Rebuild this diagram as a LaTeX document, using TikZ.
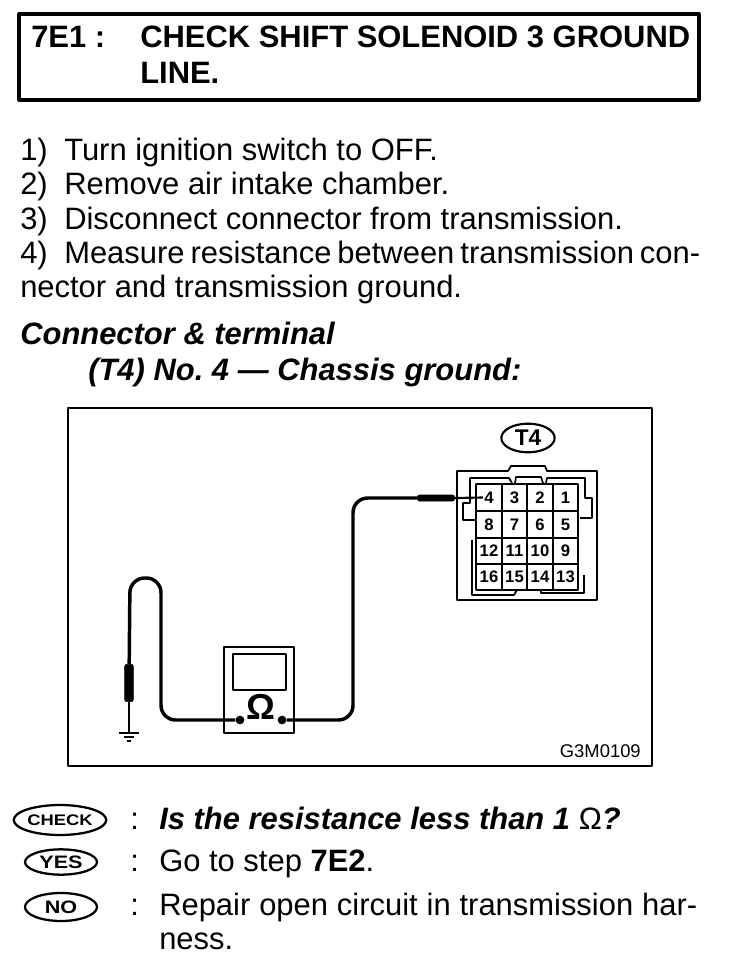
\documentclass[tikz,border=0pt]{standalone}
\usepackage{fontspec}
\setmainfont{Liberation Sans}
\newfontfamily\widefont[FakeStretch=1.2]{Liberation Sans}
\newcommand{\bodysize}{\fontsize{23.2}{28}\selectfont\frenchspacing}
\newcommand{\stepno}[1]{\makebox[33pt][l]{#1}}
\tikzset{
  txt/.style={anchor=base west,inner sep=0pt,font=\bodysize},
  head/.style={txt,font=\bodysize\bfseries},
  ask/.style={txt,font=\bodysize\bfseries\itshape},
  badge/.style={draw,ellipse,line width=1.7pt,inner sep=0pt,font=\widefont\bfseries\fontsize{13.5}{14}\selectfont},
  pin/.style={draw,line width=1.5pt,minimum width=19.2pt,minimum height=19.8pt,inner sep=0pt,font=\bfseries\fontsize{12.5}{14}\selectfont},
  wire/.style={line width=2.6pt,rounded corners=11pt},
  probe/.style={draw,fill=black,inner sep=0pt,rounded corners=1.5pt},
  shell/.style={line width=1.3pt}
}
\usetikzlibrary{shapes.geometric}
\begin{document}
\begin{tikzpicture}[x=0.75pt,y=-0.75pt,line join=round]
\useasboundingbox (0,0) rectangle (736,968);
% title box
\draw[line width=2.4pt] (19,14) rectangle (699,100);
\node[head] (num) at (31,47) {7E1 :};
\node[head] (t1) at (140,47) {CHECK SHIFT SOLENOID 3 GROUND};
\node[head] (t2) at (140,83) {LINE.};
% steps
\node[txt] (s1) at (20,160) {\stepno{1)}Turn ignition switch to OFF.};
\node[txt] (s2) at (20,194) {\stepno{2)}Remove air intake chamber.};
\node[txt] (s3) at (20,229) {\stepno{3)}Disconnect connector from transmission.};
\node[txt] (s4) at (20,263) {\stepno{4)}\hbox to 477pt{Measure resistance between transmission con-}};
\node[txt] (s5) at (20,297) {nector and transmission ground.};
\node[ask] (c1) at (20,344) {Connector \& terminal};
\node[ask] (c2) at (88,380) {(T4) No. 4 --- Chassis ground:};
% figure frame
\draw[line width=1.7pt] (68,408) rectangle (652,766);
\node[anchor=base east,inner sep=0pt,font=\fontsize{13.8}{15}\selectfont] (code) at (641,757) {G3M0109};
% connector
\node[draw,ellipse,line width=1.6pt,minimum width=40pt,minimum height=21.5pt,inner sep=0pt,font=\bfseries\fontsize{17}{19}\selectfont] (T4) at (528,438) {T4};
\draw[shell] (457,600)--(457,471)--(508,471)--(511,466)--(545,466)--(547,471)--(597,471)--(597,600)--cycle;
\draw[shell] (476,520)--(463,520)--(463,503)--(470,503)--(470,478)--(509,478)--(512,483);
\draw[shell] (515,483)--(516,477)--(541,477)--(543,483);
\draw[shell] (546,483)--(547,478)--(585,478)--(585,498)--(592,498)--(592,518)--(580,518);
\draw[shell] (472,540)--(472,595)--(514,595)--(517,590);
\draw[shell] (541,590)--(541,593)--(584,593)--(584,575);
\foreach \n/\cx/\cy in {4/489/497.5,3/514.5/497.5,2/540/497.5,1/565.5/497.5,
  8/489/524.5,7/514.5/524.5,6/540/524.5,5/565.5/524.5,
  12/489/551,11/514.5/551,10/540/551,9/565.5/551,
  16/489/577,15/514.5/577,14/540/577,13/565.5/577}
  \node[pin] (p\n) at (\cx,\cy) {\n};
% meter
\draw[line width=1.5pt] (224,647) rectangle (294,733);
\draw[line width=1.5pt] (233,654) rectangle (286,690);
\node[inner sep=0pt,font=\bfseries\fontsize{27}{29}\selectfont] (ohm) at (261,707) {Ω};
\node[circle,fill=black,inner sep=0pt,minimum size=6.5pt] (plus) at (240,720) {};
\node[circle,fill=black,inner sep=0pt,minimum size=6.5pt] (minus) at (282,720) {};
% right lead
\node[probe,minimum width=28pt,minimum height=4.5pt] (tipb) at (436,498) {};
\draw[wire] (minus) -- (353,720) -- (353,498) -- (tipb);
\draw[line width=1.6pt] (tipb.east) -- ([xshift=-4.5pt]p4.center);
% left lead
\coordinate (gnd) at (129,733);
\node[probe,minimum width=6.5pt,minimum height=28pt] (tipa) at (129,683) {};
\draw[wire] (plus) -- (161,720) -- (161,578) -- (130,578) -- (tipa);
\draw[line width=1.3pt] (tipa) -- (gnd);
\draw[line width=1.3pt] (119,733) -- (139,733);
\draw[line width=1.3pt] (124,737) -- (134,737);
\draw[line width=1.3pt] (127,741) -- (131,741);
% answers
\node[badge,minimum width=67.5pt,minimum height=22.5pt,font=\widefont\bfseries\fontsize{11.5}{12}\selectfont] (chk) at (60,820) {CHECK};
\node[badge,minimum width=54pt,minimum height=19pt] (yes) at (61,862) {YES};
\node[badge,minimum width=54pt,minimum height=21pt] (no) at (61,907) {NO};
\node[txt] (d1) at (130,829) {:};
\node[txt] (d2) at (130,871) {:};
\node[txt] (d3) at (130,915) {:};
\node[ask] (a1) at (159,829) {Is the resistance less than 1 {\mdseries\upshape Ω}?};
\node[txt] (a2) at (159,871) {Go to step \textbf{7E2}.};
\node[txt] (a3) at (159,915) {\hbox to 403.5pt{Repair open circuit in transmission har-}};
\node[txt] (a4) at (159,949) {ness.};
\end{tikzpicture}
\end{document}
